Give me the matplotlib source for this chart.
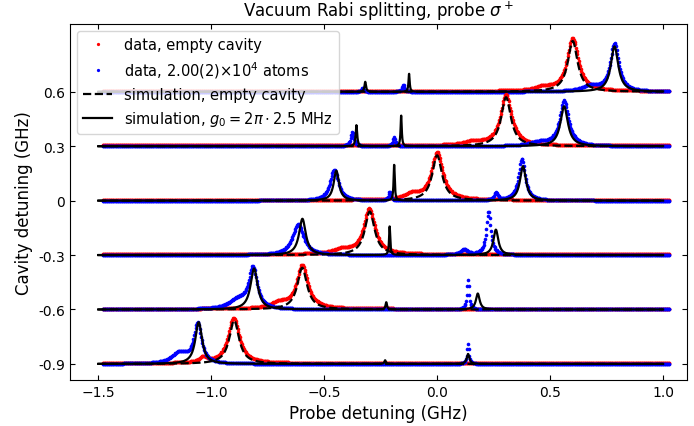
import numpy as np
import matplotlib.pyplot as plt

# cavity detuning of each trace (GHz), also used as the vertical offset
cavity_detuning = [0.6, 0.3, 0.0, -0.3, -0.6, -0.9]
ytick_labels = ['0.6', '0.3', '0', '-0.3', '-0.6', '-0.9']

# empty cavity simulation: one peak per trace (center, height, hwhm) in GHz
empty_sim_center = [0.600, 0.305, 0.000, -0.298, -0.597, -0.898]
empty_sim_height = [0.28, 0.27, 0.25, 0.24, 0.23, 0.24]
empty_sim_width = [0.026, 0.026, 0.026, 0.026, 0.026, 0.026]

# atom simulation peaks (center, height, hwhm)
atom_sim_peaks = [
    [(-0.318, 0.055, 0.004), (-0.124, 0.10, 0.003), (0.785, 0.25, 0.020)],
    [(-0.357, 0.116, 0.004), (-0.159, 0.17, 0.003), (0.562, 0.22, 0.020)],
    [(-0.446, 0.165, 0.014), (-0.190, 0.20, 0.003), (0.380, 0.19, 0.016)],
    [(-0.596, 0.20, 0.018), (-0.210, 0.16, 0.003), (0.260, 0.14, 0.013)],
    [(-0.810, 0.226, 0.019), (-0.225, 0.04, 0.004), (0.180, 0.088, 0.010)],
    [(-1.055, 0.23, 0.018), (-0.230, 0.02, 0.004), (0.137, 0.055, 0.007)],
]

# measured spectra, empty cavity (red): peaks seen in the dots
empty_data_peaks = [
    [(0.600, 0.29, 0.030), (0.470, 0.02, 0.040)],
    [(0.305, 0.28, 0.030), (0.160, 0.02, 0.050)],
    [(0.000, 0.26, 0.030), (-0.110, 0.03, 0.040)],
    [(-0.300, 0.25, 0.030), (-0.420, 0.025, 0.050)],
    [(-0.597, 0.24, 0.030), (-0.700, 0.03, 0.040)],
    [(-0.900, 0.25, 0.030), (-1.035, 0.03, 0.020)],
]

# measured spectra with atoms (blue)
atom_data_peaks = [
    [(0.785, 0.265, 0.022), (0.680, 0.03, 0.050), (-0.150, 0.04, 0.006), (-0.330, 0.02, 0.006)],
    [(0.562, 0.25, 0.024), (0.450, 0.02, 0.050), (-0.375, 0.08, 0.008), (-0.190, 0.05, 0.006)],
    [(0.375, 0.23, 0.018), (0.260, 0.04, 0.010), (-0.455, 0.17, 0.022), (-0.210, 0.05, 0.006)],
    [(0.228, 0.24, 0.012), (0.120, 0.03, 0.020), (-0.615, 0.17, 0.030)],
    [(0.137, 0.16, 0.006), (-0.815, 0.22, 0.022), (-0.880, 0.05, 0.050)],
    [(0.137, 0.11, 0.005), (-1.060, 0.22, 0.020), (-1.140, 0.06, 0.040)],
]

# probe detuning ranges (GHz)
sim_range = (-1.5, 1.0)
data_range = (-1.48, 1.03)
red_baseline = 0.004
blue_baseline = 0.0


def spectrum(x, peaks):
    y = np.zeros_like(x)
    for c, h, w in peaks:
        y += h / (1 + ((x - c) / w) ** 2)
    return y


x_sim = np.linspace(sim_range[0], sim_range[1], 3000)
x_data = np.arange(data_range[0], data_range[1], 0.003)

fig = plt.figure(figsize=(6.94, 4.27), dpi=100)
ax = fig.add_axes([0.101, 0.108, 0.889, 0.834])

for i, d in enumerate(cavity_detuning):
    first = i == 0
    ax.plot(x_data, d + red_baseline + spectrum(x_data, empty_data_peaks[i]), 'o', color='red',
            markersize=2.6, markeredgewidth=0, label='data, empty cavity' if first else None, zorder=2)
    ax.plot(x_data, d + blue_baseline + spectrum(x_data, atom_data_peaks[i]), 'o', color='blue',
            markersize=2.6, markeredgewidth=0,
            label=r'data, 2.00(2)$\times 10^4$ atoms' if first else None, zorder=2)
    ax.plot(x_sim, d + spectrum(x_sim, [(empty_sim_center[i], empty_sim_height[i], empty_sim_width[i])]),
            '--', color='black', lw=1.6, label='simulation, empty cavity' if first else None, zorder=3)
    ax.plot(x_sim, d + spectrum(x_sim, atom_sim_peaks[i]), '-', color='black', lw=1.6,
            label=r'simulation, $g_0 = 2\pi \cdot 2.5$ MHz' if first else None, zorder=3)

ax.set_xlim(-1.624, 1.106)
ax.set_ylim(-0.988, 0.975)
ax.set_xticks([-1.5, -1.0, -0.5, 0.0, 0.5, 1.0])
ax.set_yticks(cavity_detuning)
ax.set_yticklabels(ytick_labels)
ax.tick_params(direction='in', top=True, right=True, labelsize=10)
ax.set_xlabel('Probe detuning (GHz)', fontsize=12)
ax.set_ylabel('Cavity detuning (GHz)', fontsize=12)
ax.set_title(r'Vacuum Rabi splitting, probe $\sigma^+$', fontsize=12)
ax.legend(loc='upper left', fontsize=10.5, markerscale=0.9)

fig.savefig('out.png', dpi=100)
